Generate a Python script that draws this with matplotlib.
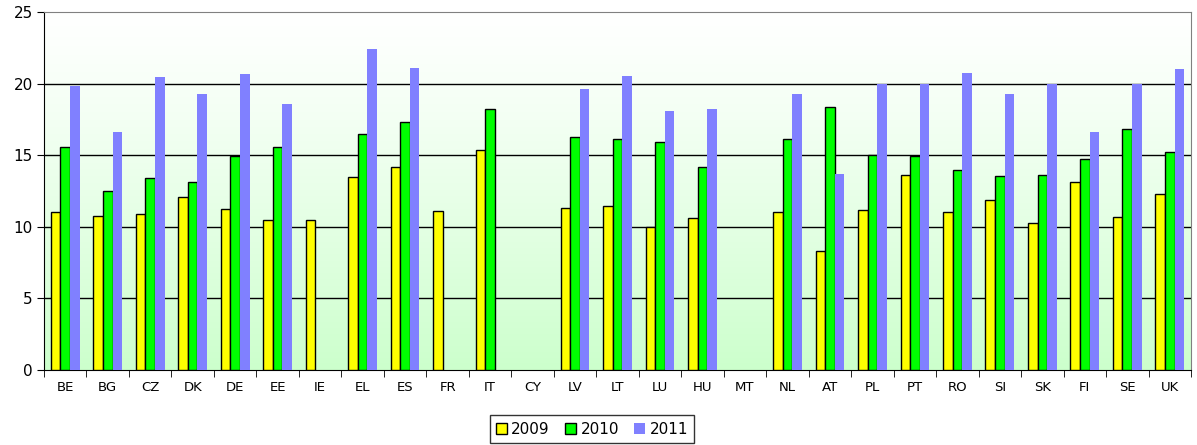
import matplotlib.pyplot as plt
import numpy as np
from matplotlib.patches import Patch

countries = ['BE', 'BG', 'CZ', 'DK', 'DE', 'EE', 'IE', 'EL', 'ES', 'FR', 'IT', 'CY', 'LV', 'LT',
             'LU', 'HU', 'MT', 'NL', 'AT', 'PL', 'PT', 'RO', 'SI', 'SK', 'FI', 'SE', 'UK']
nan = np.nan
y2009 = [11.0, 10.75, 10.9, 12.1, 11.25, 10.45, 10.5, 13.5, 14.2, 11.1, 15.35, nan, 11.3, 11.45,
         10.0, 10.6, nan, 11.0, 8.3, 11.15, 13.65, 11.05, 11.9, 10.3, 13.15, 10.7, 12.3]
y2010 = [15.55, 12.5, 13.4, 13.15, 14.95, 15.6, nan, 16.45, 17.3, nan, 18.2, nan, 16.3, 16.15,
         15.9, 14.2, nan, 16.1, 18.4, 15.0, 14.95, 14.0, 13.55, 13.6, 14.7, 16.85, 15.25]
y2011 = [19.8, 16.65, 20.45, 19.3, 20.65, 18.6, nan, 22.45, 21.1, nan, nan, nan, 19.6, 20.55,
         18.1, 18.25, nan, 19.3, 13.7, 19.95, 19.95, 20.75, 19.25, 19.95, 16.65, 19.95, 21.0]

fig = plt.figure(figsize=(11.97, 4.45), dpi=100)
ax = fig.add_axes([44 / 1197, 75 / 445, 1147 / 1197, 358 / 445])

# Hintergrund: Verlauf von weiss nach hellgruen
grad = np.linspace(0, 1, 256).reshape(-1, 1)
top = np.array([1.0, 1.0, 1.0])
bottom = np.array([0.80, 1.0, 0.80])
img = top + (bottom - top) * grad[:, :, None] ** 1.2
ax.imshow(img, extent=[-0.5, len(countries) - 0.5, 0, 25], aspect='auto', zorder=0,
          origin='upper')

x = np.arange(len(countries))
w = 0.225
ax.bar(x - w, y2009, w, color='#ffff00', edgecolor='black', linewidth=1, zorder=3)
ax.bar(x, y2010, w, color='#00ff00', edgecolor='black', linewidth=1, zorder=3)
ax.bar(x + w, y2011, w, color='#8080ff', edgecolor='none', zorder=3)

for yv in [5, 10, 15, 20]:
    ax.axhline(yv, color='black', linewidth=1, zorder=1)

ax.set_xlim(-0.5, len(countries) - 0.5)
ax.set_ylim(0, 25)
ax.set_yticks([0, 5, 10, 15, 20, 25])
ax.set_xticks(x)
ax.set_xticklabels(countries, fontsize=9.5)
ax.set_xticks(np.arange(-0.5, len(countries), 1), minor=True)
ax.tick_params(axis='x', which='major', length=0, pad=8)
ax.tick_params(axis='x', which='minor', length=5, color='black', direction='out')
ax.tick_params(axis='y', length=5, direction='out', labelsize=11, pad=3)

ax.spines['left'].set_color('black')
ax.spines['bottom'].set_color('black')
ax.spines['top'].set_color('#808080')
ax.spines['right'].set_color('#808080')

handles = [Patch(facecolor='#ffff00', edgecolor='black', label='2009'),
           Patch(facecolor='#00ff00', edgecolor='black', label='2010'),
           Patch(facecolor='#8080ff', edgecolor='none', label='2011')]
leg = fig.legend(handles=handles, loc='center', bbox_to_anchor=(592 / 1197, 1 - 429 / 445),
                 ncol=3, frameon=True, fancybox=False, fontsize=11, handlelength=0.7,
                 handleheight=0.7, handletextpad=0.3, columnspacing=1.0, borderpad=0.4)
leg.get_frame().set_edgecolor('black')
leg.get_frame().set_linewidth(1)

fig.savefig('out.png', dpi=100)
